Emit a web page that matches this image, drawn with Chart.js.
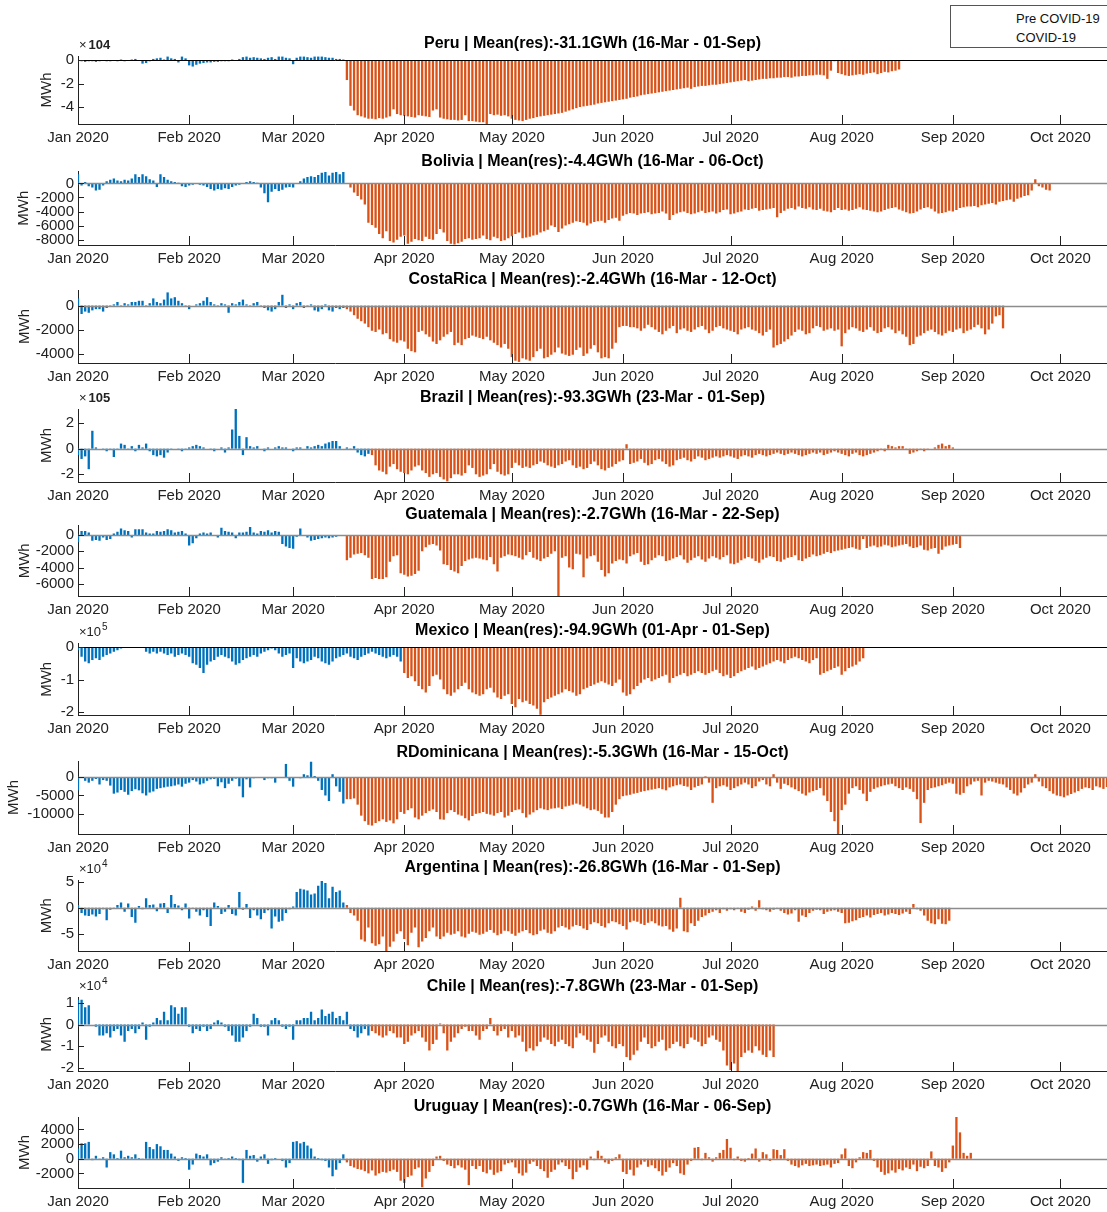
<!DOCTYPE html>
<html>
<head>
<meta charset="utf-8">
<script src="https://cdn.jsdelivr.net/npm/chart.js@4.4.0/dist/chart.umd.min.js"></script>
<style>
html, body { margin: 0; padding: 0; background: #fff; }
#wrap { position: relative; width: 1107px; height: 1212px; overflow: hidden; font-family: "Liberation Sans", Arial, sans-serif; }
#wrap canvas { position: absolute; left: 0; }
#legend { position: absolute; left: 950px; top: 5px; width: 175px; height: 43px; border: 1px solid #555; background: #fff; box-sizing: border-box; font-size: 13px; color: #111; z-index: 5; }
#legend div { position: absolute; left: 65px; line-height: 15px; }
</style>
</head>
<body>
<div id="wrap">
  <div id="legend"><div style="top:5px">Pre COVID-19</div><div style="top:24px">COVID-19</div></div>
</div>
<script>
// x axis: day index counted from 1 Jan 2020
const monthLabels = ['Jan 2020', 'Feb 2020', 'Mar 2020', 'Apr 2020', 'May 2020', 'Jun 2020', 'Jul 2020', 'Aug 2020', 'Sep 2020', 'Oct 2020'];
const monthStartDays = [0, 31, 60, 91, 121, 152, 182, 213, 244, 274];

// daily residuals, one value per day from 1 Jan (units as on each y axis)
// Peru, x10^4 MWh
const peruRes = [
  -0.1,-0.1,-0.15,-0.1,-0.1,-0.15,-0.1,-0.05,-0.1,-0.1,-0.05,-0.1,0.05,-0.1,-0.05,0.05,0.1,-0.05,-0.3,-0.25,-0.1,0.1,0.15,0.2,0.05,0.3,0.15,0.1,-0.2,0.3,0.15,
  -0.45,-0.55,-0.4,-0.3,-0.25,-0.2,-0.2,-0.15,-0.15,-0.1,-0.1,-0.1,0.05,-0.05,0.1,0.25,0.3,0.2,0.25,0.2,0.15,0.1,0.2,0.25,0.1,0.3,0.3,0.2,0.15,
  -0.35,0.2,0.3,0.3,0.25,0.2,0.3,0.3,0.3,0.25,0.2,0.2,0.1,0.1,0.05,-1.7,-3.9,-4.3,-4.7,-4.8,-4.9,-5.0,-5.0,-5.05,-4.95,-5.0,-4.9,-4.8,-4.2,-4.6,-4.7,
  -4.75,-4.8,-4.85,-4.9,-4.7,-4.75,-4.8,-4.85,-4.3,-4.2,-4.9,-5.0,-5.05,-5.1,-5.1,-5.15,-5.1,-4.7,-5.2,-5.2,-5.25,-5.3,-5.3,-5.45,-4.6,-4.7,-4.65,-4.75,-4.7,-4.8,
  -5.0,-5.1,-5.15,-5.2,-5.1,-5.0,-4.95,-4.85,-4.8,-4.75,-4.7,-4.65,-4.6,-4.55,-4.5,-4.4,-4.3,-4.2,-4.1,-4.0,-3.95,-3.9,-3.85,-3.8,-3.7,-3.65,-3.6,-3.55,-3.5,-3.45,-3.4,
  -3.35,-3.3,-3.2,-3.15,-3.1,-3.0,-2.95,-2.9,-2.85,-2.8,-2.75,-2.7,-2.65,-2.6,-2.55,-2.5,-2.45,-2.4,-2.35,-2.45,-2.3,-2.25,-2.2,-2.2,-2.15,-2.1,-2.1,-2.05,-2.0,-1.95,
  -1.9,-1.85,-1.8,-1.75,-1.7,-1.8,-1.75,-1.7,-1.65,-1.6,-1.6,-1.55,-1.55,-1.5,-1.5,-1.45,-1.45,-1.5,-1.4,-1.4,-1.35,-1.35,-1.3,-1.3,-1.25,-1.25,-1.3,-1.6,-0.9,-0.1,-1.1,
  -1.2,-1.3,-1.35,-1.3,-1.25,-1.2,-1.25,-1.15,-1.1,-1.05,-1.2,-1.1,-1.0,-1.05,-0.95,-0.9,-0.8
];
// Bolivia, MWh
const boliviaRes = [
  1300,-300,200,-400,-600,-1000,-900,-300,300,500,700,400,300,500,400,700,1300,900,1300,1000,600,400,-500,1300,900,500,300,200,100,-400,-500,
  -300,-200,-100,-200,-300,-500,-800,-1000,-800,-900,-700,-800,-500,-300,-200,-100,200,300,200,100,-600,-1400,-2700,-1200,-800,-1100,-900,-600,-500,
  -600,-100,300,700,900,1000,900,1200,1500,1600,1100,1500,1600,1300,1600,-50,-600,-1300,-1800,-2300,-3000,-5600,-5900,-6300,-7200,-7800,-6800,-8200,-8400,-8000,-7600,
  -7400,-8600,-8300,-7900,-8100,-8200,-7600,-7900,-8000,-7200,-6500,-7000,-8200,-8600,-8700,-8500,-8300,-7900,-7800,-8000,-7900,-7800,-7400,-7900,-8100,-7600,-7800,-8200,-8100,-7800,
  -7500,-7200,-7000,-7800,-7700,-7600,-7400,-7300,-7000,-6800,-6600,-6000,-6200,-6900,-6400,-6000,-5800,-5600,-5400,-5500,-5600,-6000,-5700,-5500,-5400,-5300,-5600,-5200,-5000,-4900,-5300,
  -4600,-4400,-4200,-4300,-4500,-4300,-4200,-4100,-4400,-4300,-4200,-4000,-4300,-5200,-4500,-4300,-4100,-4000,-4200,-4400,-4300,-4100,-3900,-4200,-4100,-4000,-4300,-4100,-3800,-3700,
  -4400,-4300,-4100,-4000,-3700,-3800,-3600,-3500,-3900,-3800,-3700,-3600,-3500,-4800,-4200,-3900,-3600,-3500,-3700,-3300,-3500,-3600,-3400,-3700,-3800,-3600,-3900,-4000,-4100,-3800,-3500,
  -3800,-3700,-3900,-3800,-3600,-3400,-3700,-3800,-3900,-4000,-4100,-4000,-3800,-3600,-3500,-3400,-3700,-3900,-4100,-4300,-4200,-4000,-3700,-3500,-3400,-3600,-4000,-4300,-4200,-4100,-3900,
  -4000,-3800,-3500,-3400,-3300,-3300,-3200,-3400,-3100,-3000,-2900,-2800,-3000,-2600,-2500,-2400,-2300,-2600,-2200,-2000,-1800,-1700,-1000,600,-400,-600,-900,-1000
];
// Costa Rica, MWh
const costaRicaRes = [
  600,-700,-500,-600,-400,-300,-300,-500,-200,-100,100,300,-100,200,100,300,300,400,400,-100,200,600,300,200,500,1100,600,700,400,200,-100,
  -300,0,100,200,400,700,300,100,-100,200,100,-600,200,100,300,500,100,-100,200,300,-100,-200,-400,-500,-300,300,900,-200,100,
  -300,200,300,-200,-100,100,-400,-500,-300,100,-400,-500,-200,-300,-200,-300,-500,-800,-1100,-1300,-1500,-1800,-2100,-2200,-2000,-2400,-2300,-2800,-3000,-3100,-2900,
  -3000,-3600,-3800,-3900,-2200,-2100,-2400,-2600,-3000,-3200,-2900,-2600,-2400,-2200,-3300,-3100,-3300,-2800,-2700,-2500,-2600,-2700,-2800,-2600,-2900,-3100,-3300,-3500,-3200,-3600,
  -4300,-4600,-4700,-4400,-4500,-4600,-4300,-3800,-3600,-4400,-4300,-4100,-3900,-3500,-4000,-4100,-4200,-4100,-3700,-3500,-4200,-4000,-3600,-3300,-3900,-4400,-4300,-4400,-3600,-3100,-1800,
  -1700,-1700,-1800,-1800,-1900,-2100,-1900,-1600,-1800,-2000,-2200,-2400,-2100,-1900,-1700,-2300,-2000,-1900,-2100,-2200,-2000,-1800,-1700,-2000,-2300,-2100,-1800,-1700,-1900,-2000,
  -2100,-2200,-2400,-2000,-1900,-1800,-2000,-2100,-2300,-2500,-2200,-2000,-3500,-3300,-3200,-3000,-2800,-2500,-2200,-2000,-2100,-2400,-2300,-1900,-1700,-1800,-2100,-2000,-1900,-2100,-2000,
  -3400,-2300,-2000,-1800,-1900,-2100,-2200,-2000,-1800,-2100,-2300,-2200,-1900,-1800,-2000,-2300,-2100,-2400,-2600,-3300,-3200,-2600,-2500,-2300,-2100,-2000,-2200,-2400,-2500,-2300,-2100,
  -2200,-2000,-1900,-2300,-2100,-2000,-1800,-1600,-1900,-2400,-2000,-1500,-900,-800,-1900
];
// Brazil, x10^5 MWh
const brazilRes = [
  -0.5,-0.8,-0.6,-1.6,1.4,0.1,0,-0.1,-0.2,-0.1,-0.65,-0.1,0.4,0.3,-0.1,0.2,-0.2,0.3,0.1,0.4,-0.2,-0.5,-0.6,-0.5,-0.7,-0.3,-0.1,0,-0.1,-0.2,-0.1,
  0.1,0.2,0.3,0.2,0.1,0,-0.1,-0.2,0,0.1,-0.3,0.1,1.5,3.1,1.0,-0.5,0.9,0.2,0.1,0.2,0,-0.2,0.1,0,0.1,0.2,0.1,0.1,0,
  -0.2,0.1,0.1,0,0.2,0.1,0.2,0.3,0.2,0.4,0.5,0.6,0.6,0.2,0,0.1,-0.1,0.2,-0.3,-0.5,-0.6,-0.4,-0.5,-1.3,-1.7,-1.8,-2.0,-1.4,-1.2,-1.6,-1.8,
  -1.9,-2.0,-1.7,-1.4,-1.3,-1.7,-1.9,-2.2,-2.0,-1.9,-2.2,-2.4,-2.55,-2.3,-2.0,-2.0,-2.1,-1.9,-1.3,-1.5,-2.0,-2.2,-2.1,-2.0,-1.6,-1.2,-1.8,-2.0,-2.1,-2.0,
  -1.5,-1.1,-1.3,-1.5,-1.4,-1.5,-1.3,-1.2,-1.0,-1.1,-1.3,-1.4,-1.5,-1.3,-1.2,-1.0,-0.9,-1.3,-1.5,-1.4,-1.6,-1.5,-1.2,-1.0,-1.3,-1.6,-1.7,-1.5,-1.4,-1.2,-1.0,
  -0.9,0.35,-1.2,-1.1,-1.0,-0.8,-1.1,-1.3,-1.2,-0.9,-0.8,-1.0,-1.2,-1.4,-1.3,-0.9,-0.8,-0.7,-0.9,-1.0,-0.8,-0.6,-0.7,-0.9,-0.8,-0.7,-0.6,-0.7,-0.6,-0.5,
  -0.6,-0.7,-0.8,-0.6,-0.5,-0.6,-0.7,-0.5,-0.4,-0.5,-0.6,-0.5,-0.4,-0.3,-0.4,-0.5,-0.4,-0.3,-0.4,-0.5,-0.6,-0.5,-0.4,-0.3,-0.4,-0.3,-0.5,-0.4,-0.3,-0.2,-0.3,
  -0.4,-0.5,-0.6,-0.4,-0.3,-0.5,-0.6,-0.5,-0.4,-0.3,-0.2,-0.1,-0.2,0.3,0.2,0.1,0.2,0.2,-0.1,-0.4,-0.3,-0.2,-0.1,-0.2,-0.1,0,0.1,0.3,0.4,0.2,0.3,
  0.1
];
// Guatemala, MWh
const guatemalaRes = [
  -900,500,500,300,-700,-600,-700,-300,-600,-500,200,400,800,600,500,-300,700,700,700,300,200,200,500,400,500,700,600,300,400,500,200,
  -1300,-1000,-400,200,300,200,300,0,-300,900,500,400,300,-400,300,300,400,1000,300,200,500,400,600,300,500,400,-1100,-1400,-1600,
  -1700,-200,800,-100,-300,-700,-600,-500,-400,-300,-400,-300,-200,-100,-100,-3100,-2800,-2400,-2300,-2200,-2500,-2800,-5400,-5300,-5400,-5400,-5200,-3300,-2600,-2500,-4700,
  -4900,-5100,-5000,-4800,-4400,-2000,-1500,-1200,-1100,-1300,-1900,-3600,-3700,-4300,-4500,-4700,-3800,-3200,-3000,-2900,-2800,-2900,-3000,-3100,-2700,-3600,-4500,-2800,-2600,-2400,
  -2500,-2600,-2800,-3000,-2500,-2100,-2800,-3000,-3200,-2900,-2700,-2300,-2000,-7500,-2800,-2600,-4000,-4200,-2300,-2400,-5200,-2900,-2600,-2500,-3300,-4300,-5100,-4700,-3500,-3200,-3000,
  -3100,-3500,-2600,-2400,-2200,-3300,-3700,-3600,-3100,-2800,-2500,-2600,-3200,-3100,-2900,-2700,-2500,-3000,-3400,-3100,-2800,-2600,-3000,-3300,-2900,-2600,-2800,-3000,-2700,-2500,
  -3500,-3600,-3400,-3100,-2900,-2700,-2900,-3200,-3400,-3000,-2800,-2600,-2700,-3200,-3300,-3000,-2800,-2700,-2500,-3100,-3200,-2900,-2700,-2400,-2600,-2500,-2300,-2100,-2200,-2000,-1900,
  -1800,-1700,-1600,-1500,-1700,-1800,-500,-1600,-1400,-1300,-1500,-1400,-1200,-1300,-1500,-1400,-1300,-1200,-1100,-1400,-1600,-1500,-1300,-1800,-1900,-1700,-1600,-2300,-1800,-1400,-1300,
  -1200,-1100,-1600
];
// Mexico, x10^5 MWh (no data 14-19 Jan)
const mexicoRes = [
  -0.1,-0.3,-0.45,-0.5,-0.4,-0.35,-0.4,-0.3,-0.25,-0.2,-0.15,-0.1,-0.05,null,null,null,null,null,null,-0.15,-0.2,-0.15,-0.2,-0.15,-0.2,-0.25,-0.2,-0.3,-0.25,-0.2,-0.25,
  -0.3,-0.5,-0.55,-0.65,-0.8,-0.55,-0.45,-0.4,-0.3,-0.25,-0.3,-0.35,-0.45,-0.55,-0.5,-0.4,-0.35,-0.3,-0.25,-0.3,-0.2,-0.15,-0.1,-0.05,-0.1,-0.2,-0.3,-0.25,-0.2,
  -0.65,-0.35,-0.45,-0.5,-0.45,-0.4,-0.3,-0.35,-0.45,-0.5,-0.55,-0.45,-0.35,-0.3,-0.25,-0.2,-0.3,-0.35,-0.4,-0.3,-0.25,-0.2,-0.15,-0.2,-0.25,-0.3,-0.35,-0.3,-0.25,-0.3,-0.45,
  -0.8,-0.95,-0.9,-1.05,-1.2,-1.3,-1.4,-1.2,-0.9,-0.85,-1.0,-1.3,-1.45,-1.5,-1.4,-1.3,-1.2,-1.1,-1.3,-1.4,-1.45,-1.5,-1.45,-1.3,-1.25,-1.4,-1.55,-1.6,-1.5,-1.45,
  -1.75,-1.85,-1.6,-1.7,-1.65,-1.75,-1.8,-1.9,-2.08,-1.7,-1.6,-1.55,-1.5,-1.45,-1.4,-1.3,-1.35,-1.4,-1.5,-1.45,-1.3,-1.25,-1.2,-1.15,-1.1,-1.05,-1.1,-1.15,-1.2,-1.1,-1.0,
  -1.4,-1.5,-1.45,-1.3,-1.2,-1.1,-1.0,-0.95,-1.05,-1.0,-0.95,-0.9,-0.85,-1.1,-0.95,-0.9,-0.85,-0.8,-0.9,-0.85,-0.8,-0.75,-0.8,-0.85,-0.8,-0.75,-0.7,-0.8,-0.9,-0.85,
  -0.95,-0.9,-0.8,-0.75,-0.7,-0.65,-0.6,-0.7,-0.65,-0.6,-0.55,-0.5,-0.45,-0.4,-0.45,-0.5,-0.4,-0.35,-0.3,-0.35,-0.4,-0.45,-0.5,-0.4,-0.35,-0.85,-0.8,-0.75,-0.7,-0.65,-0.6,
  -0.85,-0.75,-0.65,-0.6,-0.55,-0.45,-0.35
];
// Dominican Republic, MWh
const rDominicanaRes = [
  -3600,-200,-1000,-1500,-1000,-500,-2000,-800,-1000,-2300,-4500,-4200,-3500,-4000,-4800,-3800,-3300,-3600,-4400,-5000,-4200,-3900,-3200,-3000,-2800,-2600,-2500,-2300,-2000,-2600,-1800,
  -1500,-800,-1200,-2000,-1700,-1000,-600,-500,-2500,-1400,-3000,-1800,-1000,-400,-2500,-5500,-600,-2800,-300,-200,-100,-800,-300,-300,-1500,-200,-100,3600,-1000,
  -2600,-200,-300,800,500,4200,300,-1000,-3500,-5000,-6500,800,-2500,-4000,-7200,-6000,-6000,-5800,-7500,-10500,-12000,-13000,-13200,-12500,-12000,-11500,-12200,-11800,-12600,-11500,-9500,
  -10000,-9000,-8500,-11000,-11500,-10500,-9800,-9200,-8800,-9500,-11500,-11600,-9800,-9000,-9500,-10200,-10500,-11200,-11800,-10600,-10000,-9800,-9500,-10000,-10200,-10500,-9800,-9500,-11000,-10500,
  -9500,-9000,-8800,-9800,-11000,-10200,-9600,-9000,-8500,-8800,-9000,-8600,-8500,-8300,-8700,-8000,-7800,-7500,-7200,-7500,-8000,-8500,-9000,-8800,-9200,-10000,-11000,-11000,-9500,-7500,-6000,
  -5200,-5000,-4800,-4500,-4300,-4000,-3800,-3600,-3400,-3200,-3000,-3300,-3600,-2800,-2500,-2200,-2000,-2400,-2600,-3500,-2800,-2400,-2000,200,-1500,-7000,-3000,-2500,-2200,-2600,
  -3500,-3000,-2500,-2000,-1500,-2000,-3000,-2500,-1200,-800,-2000,-2500,800,-1500,-3200,-1800,-2200,-2800,-3300,-3800,-4500,-5000,-4200,-3800,-3500,-3000,-5000,-6500,-9500,-12000,-15500,
  -9000,-7500,-4500,-3000,-2500,-3500,-4500,-6500,-4000,-3200,-2800,-2500,-2200,-2000,-1800,-2500,-3000,-3500,-2800,-3200,-4000,-6000,-12500,-7000,-3500,-3000,-2800,-2500,-2200,-1800,-1500,
  -1800,-4500,-4800,-4300,-2500,-2000,-1200,-1000,-5000,-1500,-1000,-1200,-1500,-1800,-2000,-2800,-3500,-4500,-5000,-4200,-3000,-2000,-1500,800,-1200,-2500,-3000,-3800,-4500,-5000,
  -5200,-5500,-5000,-4600,-4200,-3800,-3200,-2800,-3000,-3500,-2500,-2800,-3200,-2700
];
// Argentina, x10^4 MWh
const argentinaRes = [
  0.5,-1.0,-1.5,-1.6,-1.3,-1.7,-1.2,-0.3,-2.4,-0.4,-0.2,0.5,1.0,-0.8,0.8,-1.8,-2.9,0.3,-0.3,1.8,0.5,0.6,-0.7,0.8,0.9,-1.0,2.4,0.7,0.4,-0.5,0.8,
  -2.1,-0.2,-0.8,-1.5,-0.5,-1.8,-3.5,1.0,0.3,-1.2,-0.8,0.5,-1.2,-1.5,3.0,-0.4,0.7,-2.0,-0.5,-1.5,-2.2,-1.0,-0.5,-4.0,-1.7,-2.7,-2.5,-1.0,-0.3,
  0.2,3.0,3.6,3.5,3.3,2.5,2.7,4.2,5.1,4.7,1.8,4.0,3.0,3.3,1.0,0.5,-1.0,-1.5,-2.5,-6.1,-6.5,-3.8,-6.8,-7.3,-7.0,-5.5,-8.3,-7.5,-6.5,-5.0,-4.5,
  -6.0,-7.2,-4.8,-3.8,-7.6,-6.5,-5.8,-4.5,-3.8,-5.5,-6.0,-5.5,-4.8,-5.2,-5.0,-4.5,-5.5,-5.7,-5.0,-4.6,-4.8,-5.2,-5.0,-4.6,-4.3,-4.8,-5.3,-5.0,-4.4,-4.5,
  -5.0,-5.4,-4.8,-4.5,-4.3,-4.9,-5.3,-5.1,-4.4,-4.2,-4.8,-5.0,-4.5,-3.8,-3.5,-3.8,-4.2,-3.6,-3.3,-3.5,-4.0,-4.3,-3.2,-2.8,-3.0,-3.5,-3.8,-3.0,-2.6,-2.8,-3.2,
  -3.5,-4.2,-2.8,-2.5,-2.7,-3.1,-3.3,-2.9,-2.6,-3.0,-3.4,-3.6,-3.5,-4.2,-4.6,-4.0,1.9,-4.5,-4.7,-3.0,-3.5,-2.5,-1.8,-1.5,-1.0,-0.8,-0.5,-1.0,-0.3,-0.6,
  -0.3,-0.5,-0.2,-0.8,-1.0,-0.4,0.2,-0.6,1.4,-0.3,-0.5,-0.8,-0.4,-0.2,-0.6,-1.0,-1.3,-1.1,-0.5,-2.7,-1.5,-1.8,-1.0,-0.6,-0.4,-0.5,-1.2,-0.8,-0.6,-0.5,-0.8,
  -1.0,-3.0,-2.9,-2.6,-2.4,-2.0,-1.8,-1.5,-1.9,-1.4,-1.2,-1.0,-1.5,-1.3,-1.0,-1.2,-1.4,-1.1,-0.8,-1.2,0.7,-0.3,-0.6,-1.5,-2.5,-3.0,-3.2,-2.2,-3.1,-3.2,-2.5
];
// Chile, x10^4 MWh
const chileRes = [
  1.15,1.15,0.8,0.9,0,-0.1,-0.5,-0.5,-0.4,-0.6,-0.3,-0.2,-0.5,-0.8,-0.3,-0.2,-0.4,-0.2,0.1,-0.7,-0.1,0.1,0.3,0.2,0.6,0.2,0.9,0.8,0.5,0.8,0.8,
  -0.1,-0.4,-0.2,-0.3,-0.1,-0.3,-0.2,0.1,0.2,0.1,-0.1,-0.3,-0.5,-0.8,-0.8,-0.6,-0.3,-0.1,0.5,0.3,-0.1,-0.1,-0.5,0.2,0.3,0.2,-0.1,-0.2,-0.1,
  -0.7,0.2,0.2,0.3,0.3,0.6,0.2,0.3,0.7,0.4,0.5,0.6,0.3,0.4,0.2,0.6,-0.2,-0.3,-0.6,-0.4,-0.2,-0.5,-0.3,-0.4,-0.5,-0.6,-0.5,-0.3,-0.4,-0.6,-0.6,
  -0.9,-0.8,-0.5,-0.4,-0.3,-0.6,-0.8,-1.2,-0.9,-0.7,0.05,-0.4,-1.2,-0.8,-0.6,-0.4,-0.2,-0.1,-0.3,-0.3,-0.5,-0.7,-0.3,-0.2,0.3,-0.3,-0.5,-0.3,-0.2,-0.6,
  -0.3,-0.6,-0.5,-0.8,-1.25,-1.1,-1.2,-1.0,-0.8,-0.6,-0.7,-0.9,-1.0,-0.8,-0.7,-0.9,-1.0,-1.1,-0.6,-0.4,-0.5,-0.7,-0.8,-1.3,-0.9,-0.6,-0.5,-0.8,-1.0,-1.1,-0.9,
  -1.0,-1.5,-1.65,-1.4,-1.2,-0.8,-0.6,-0.9,-1.1,-1.0,-0.8,-0.7,-1.2,-1.1,-0.9,-0.8,-1.0,-1.1,-0.9,-0.6,-0.7,-0.8,-1.0,-0.9,-0.6,-0.5,-0.7,-0.8,-1.2,-1.9,
  -2.1,-1.8,-2.15,-1.5,-1.3,-1.2,-1.3,-1.0,-1.2,-1.4,-1.5,-1.2,-1.5
];
// Uruguay, MWh
const uruguayRes = [
  1400,2100,2100,2300,-200,400,-100,200,-1200,900,600,100,1100,200,400,200,600,100,-100,2300,1600,1300,2000,1700,1200,1200,700,300,-300,200,100,
  -1500,-800,700,500,300,600,-900,-600,-400,200,-100,100,300,100,-200,-3300,1200,400,500,-400,300,600,-700,-200,100,0,-300,-1200,-600,
  2300,2400,2100,2300,1800,1400,300,100,-200,-300,-1200,-2400,-1500,-600,600,-500,-1000,-1200,-1400,-1500,-1700,-2000,-1600,-2300,-2000,-1800,-1900,-1700,-1500,-1800,-3000,
  -3300,-2500,-2300,-1400,-1200,-3900,-2700,-1800,-1000,300,400,-300,-800,-1000,-1300,-900,-1200,-1500,-3600,-1000,-1400,-1000,-1800,-2000,-1500,-2200,-1900,-1700,-800,-600,
  -500,-1200,-2000,-2300,-1900,-700,-400,-1000,-1400,-1700,-2600,-1800,-1500,-800,-500,-1000,-1400,-2800,-1800,-1200,-900,-1500,300,-200,1100,400,-500,-700,-300,200,600,
  -1800,-2100,-1500,-2300,-1200,-800,-400,-1100,-900,-1300,-1700,-2300,-1800,-1200,-600,-1000,-2000,-2200,-800,-300,1500,1600,-200,800,200,-400,200,800,1200,2700,
  1500,-200,300,-300,-400,100,700,1400,-400,900,600,-300,1300,1200,500,1300,-300,-800,-1000,-1200,-900,-700,-1000,-900,-800,-1000,-900,-800,-1200,-700,-600,
  600,1400,-1000,-1300,-500,200,900,800,1200,-300,-1200,-1800,-2200,-2000,-1600,-1900,-1400,-1600,-1200,-1400,-800,-1700,-1100,-1300,-1000,1000,-1000,-1200,-1800,-1300,-500,
  1800,5700,3600,800,400,800
];

const PRE_COLOR = '#0072BD';
const COVID_COLOR = '#D95319';
const FONT = '"Liberation Sans", Arial, sans-serif';
const X_MAX = 287;

// one panel per country: which array, first COVID day, axis limits and placement
const panels = [
  { values: peruRes, start: 75, title: 'Peru | Mean(res):-31.1GWh (16-Mar - 01-Sep)', titleY: 42, top: 56, bottom: 124, min: -5.45, max: 0.35, ticks: [-4, -2, 0], labelX: 47, exp: ['×', '104', ''], zero: '#000' },
  { values: boliviaRes, start: 75, title: 'Bolivia | Mean(res):-4.4GWh (16-Mar - 06-Oct)', titleY: 160, top: 171.4, bottom: 244.6, min: -8760, max: 1700, ticks: [-8000, -6000, -4000, -2000, 0], labelX: 24, zero: '#8c8c8c' },
  { values: costaRicaRes, start: 75, title: 'CostaRica | Mean(res):-2.4GWh (16-Mar - 12-Oct)', titleY: 278, top: 290, bottom: 363, min: -4790, max: 1300, ticks: [-4000, -2000, 0], labelX: 25, zero: '#8c8c8c' },
  { values: brazilRes, start: 82, title: 'Brazil | Mean(res):-93.3GWh (23-Mar - 01-Sep)', titleY: 396, top: 409, bottom: 481.7, min: -2.6, max: 3.1, ticks: [-2, 0, 2], labelX: 47, exp: ['×', '105', ''], zero: '#8c8c8c' },
  { values: guatemalaRes, start: 75, title: 'Guatemala | Mean(res):-2.7GWh (16-Mar - 22-Sep)', titleY: 513, top: 525.7, bottom: 595.8, min: -7500, max: 1150, ticks: [-6000, -4000, -2000, 0], labelX: 25, zero: '#8c8c8c' },
  { values: mexicoRes, start: 91, title: 'Mexico | Mean(res):-94.9GWh (01-Apr - 01-Sep)', titleY: 629, top: 643.7, bottom: 714.9, min: -2.09, max: 0.1, ticks: [-2, -1, 0], labelX: 47, exp: ['×10', '', '5'], zero: '#000' },
  { values: rDominicanaRes, start: 75, title: 'RDominicana | Mean(res):-5.3GWh (16-Mar - 15-Oct)', titleY: 751, top: 760.7, bottom: 834, min: -15500, max: 4400, ticks: [-10000, -5000, 0], labelX: 14, zero: '#8c8c8c' },
  { values: argentinaRes, start: 75, title: 'Argentina | Mean(res):-26.8GWh (16-Mar - 01-Sep)', titleY: 866, top: 880.5, bottom: 950.7, min: -8.3, max: 5.2, ticks: [-5, 0, 5], labelX: 47, exp: ['×10', '', '4'], zero: '#8c8c8c' },
  { values: chileRes, start: 82, title: 'Chile | Mean(res):-7.8GWh (23-Mar - 01-Sep)', titleY: 985, top: 997.6, bottom: 1070.7, min: -2.15, max: 1.25, ticks: [-2, -1, 0, 1], labelX: 47, exp: ['×10', '', '4'], zero: '#8c8c8c' },
  { values: uruguayRes, start: 75, title: 'Uruguay | Mean(res):-0.7GWh (16-Mar - 06-Sep)', titleY: 1105, top: 1117, bottom: 1188.4, min: -4000, max: 5700, ticks: [-2000, 0, 2000, 4000], labelX: 25, zero: '#8c8c8c' }
];

const points = (values, from, to) => {
  const out = [];
  for (let d = from; d < Math.min(to, values.length); d++) out.push({ x: d, y: values[d] });
  return out;
};

// zero baseline, inward tick marks and the x10^n label, drawn like the MATLAB axes
const matlabAxes = {
  id: 'matlabAxes',
  afterDatasetsDraw(chart, args, opts) {
    const { ctx, chartArea: a, scales: { x, y } } = chart;
    ctx.save();
    const y0 = Math.round(y.getPixelForValue(0)) + 0.5;
    ctx.strokeStyle = opts.zero;
    ctx.lineWidth = opts.zero === '#000' ? 1 : 1.6;
    ctx.beginPath(); ctx.moveTo(a.left, y0); ctx.lineTo(a.right, y0); ctx.stroke();
    ctx.strokeStyle = '#222';
    ctx.lineWidth = 1;
    ctx.beginPath();
    monthStartDays.forEach(d => {
      const px = Math.round(x.getPixelForValue(d)) + 0.5;
      ctx.moveTo(px, a.bottom); ctx.lineTo(px, a.bottom - 9);
    });
    opts.ticks.forEach(v => {
      const py = Math.round(y.getPixelForValue(v)) + 0.5;
      ctx.moveTo(a.left, py); ctx.lineTo(a.left + 6, py);
    });
    ctx.stroke();
    if (opts.exp) {
      const [base, boldPart, sup] = opts.exp;
      const ty = a.top - 11;
      ctx.fillStyle = '#222';
      ctx.textBaseline = 'middle';
      ctx.textAlign = 'left';
      ctx.font = '13px ' + FONT;
      ctx.fillText(base, 79, ty);
      const w = ctx.measureText(base).width;
      if (boldPart) {
        ctx.font = 'bold 13px ' + FONT;
        ctx.fillText(boldPart, 79 + w + 2, ty);
      }
      if (sup) {
        ctx.font = '10px ' + FONT;
        ctx.fillText(sup, 79 + w + 1, ty - 5);
      }
    }
    ctx.restore();
  }
};

const wrap = document.getElementById('wrap');
panels.forEach(p => {
  const canvasTop = Math.round(p.titleY - 8);
  const height = Math.round(p.bottom - canvasTop) + 26;
  const canvas = document.createElement('canvas');
  canvas.style.top = canvasTop + 'px';
  canvas.style.width = '1107px';
  canvas.style.height = height + 'px';
  canvas.width = 1107;
  canvas.height = height;
  wrap.appendChild(canvas);

  new Chart(canvas, {
    type: 'bar',
    data: {
      datasets: [
        { label: 'Pre COVID-19', data: points(p.values, 0, p.start), backgroundColor: PRE_COLOR, grouped: false },
        { label: 'COVID-19', data: points(p.values, p.start, p.values.length), backgroundColor: COVID_COLOR, grouped: false }
      ]
    },
    options: {
      responsive: false,
      animation: false,
      events: [],
      barPercentage: 0.65,
      categoryPercentage: 1,
      layout: { padding: 0, autoPadding: false },
      plugins: {
        legend: { display: false },
        tooltip: { enabled: false },
        title: {
          display: true, text: p.title, color: '#000', fullSize: false,
          font: { family: FONT, size: 16, weight: 'bold', lineHeight: 1 },
          padding: { top: 2, bottom: Math.max(0, (p.top - canvasTop) - 18) }
        },
        matlabAxes: { zero: p.zero, ticks: p.ticks, exp: p.exp }
      },
      scales: {
        x: {
          type: 'linear', min: 0, max: X_MAX, offset: false,
          grid: { display: false, drawTicks: false },
          border: { display: true, color: '#222', width: 1 },
          afterBuildTicks: s => { s.ticks = monthStartDays.map(v => ({ value: v })); },
          afterFit: s => { s.height = 26; },
          ticks: {
            autoSkip: false, maxRotation: 0, padding: 5, color: '#222',
            font: { family: FONT, size: 15 },
            callback: (v, i) => monthLabels[i]
          }
        },
        y: {
          min: p.min, max: p.max,
          grid: { display: false, drawTicks: false },
          border: { display: true, color: '#222', width: 1 },
          afterBuildTicks: s => { s.ticks = p.ticks.map(v => ({ value: v })); },
          afterFit: s => { s.width = 78; },
          ticks: { autoSkip: false, padding: 4, color: '#222', font: { family: FONT, size: 15 }, callback: v => String(v) },
          title: { display: true, text: 'MWh', color: '#222', font: { family: FONT, size: 15 }, padding: { top: p.labelX - 9, bottom: 0 } }
        }
      }
    },
    plugins: [matlabAxes]
  });
});
</script>
</body>
</html>
